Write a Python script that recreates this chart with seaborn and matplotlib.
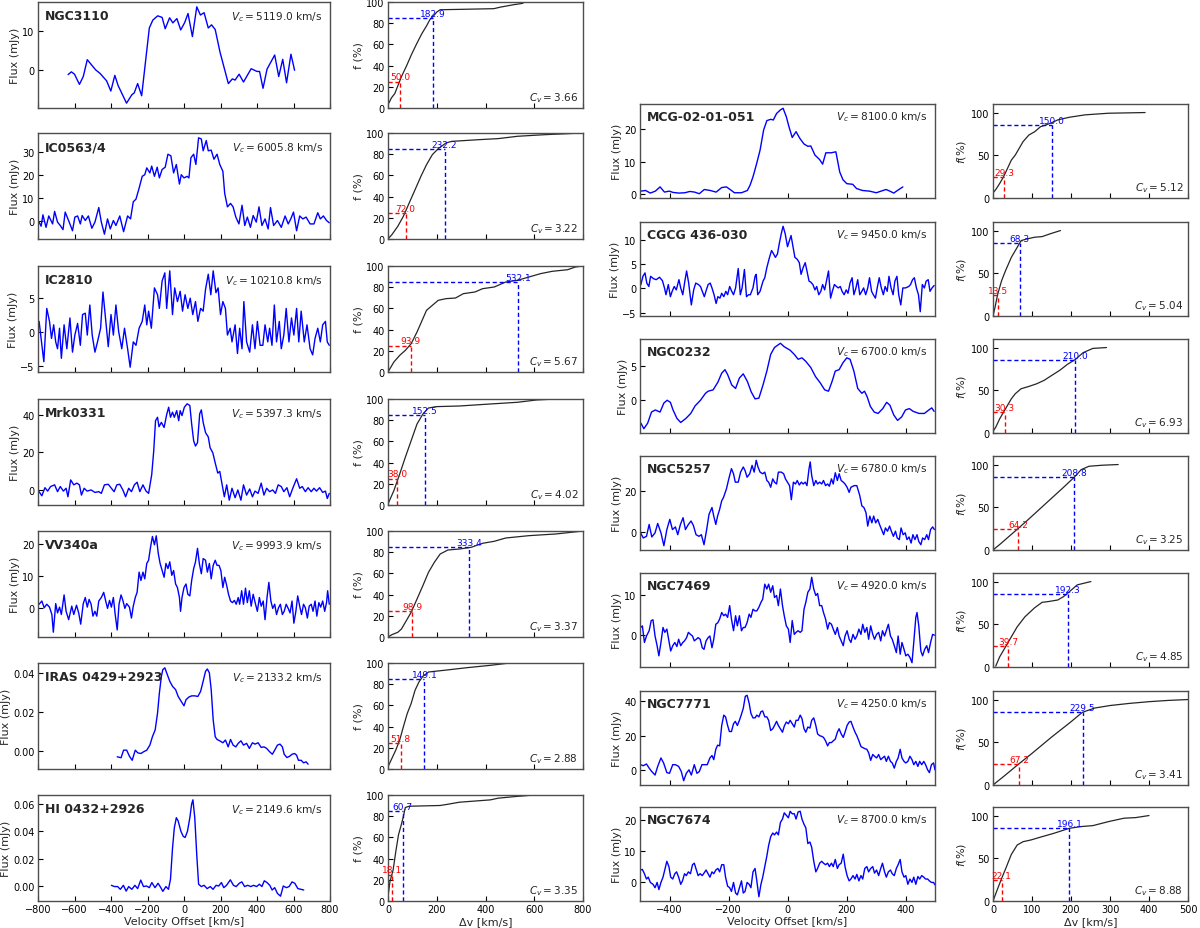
import matplotlib
matplotlib.use('Agg')
import matplotlib.pyplot as plt
import seaborn as sns
import pandas as pd

sns.set_theme(style='ticks')
plt.rcParams['font.family'] = ['DejaVu Sans']
plt.rcParams['mathtext.fontset'] = 'dejavusans'

# ---------------- data ----------------
# spectra: (velocity offset km/s, flux mJy)
ngc3110_spec = [(-635, -1.1), (-617, -0.4), (-600, -1.0), (-573, -3.6), (-552, -1.6), (-530, 2.7), (-484, 0.1),
                (-460, -0.8), (-424, -2.7), (-401, -5.3), (-379, -1.3), (-361, -3.9), (-315, -8.4), (-285, -6.2),
                (-273, -5.8), (-254, -3.4), (-232, -6.5), (-190, 10.8), (-171, 12.8), (-144, 13.9), (-120, 13.5),
                (-103, 10.6), (-79, 13.4), (-61, 12.1), (-39, 13.2), (-18, 10.3), (4, 12.2), (22, 14.5), (46, 8.6),
                (70, 16.2), (90, 14.1), (110, 14.7), (133, 10.8), (151, 11.6), (171, 10.4), (197, 4.7), (243, -3.4),
                (265, -2.2), (280, -2.5), (302, -1.0), (326, -3.0), (368, 0.4), (400, -0.3), (414, -0.3),
                (433, -4.6), (455, 0.3), (497, 3.9), (519, -1.6), (541, 2.8), (562, -3.2), (586, 4.1), (606, 0.0)]

ic0563_spec = [(-794, -0.7), (-783, -2.5), (-773, 2.5), (-756, -3.0), (-741, 2.0), (-720, -1.5), (-709, 4.0),
               (-693, -0.7), (-678, -2.2), (-663, -4.0), (-651, 3.7), (-629, -0.7), (-611, -4.5), (-598, 1.5),
               (-583, 2.0), (-568, -1.5), (-558, 2.2), (-541, 0.0), (-524, 2.0), (-505, -3.4), (-488, -0.7),
               (-467, 5.7), (-453, -0.7), (-436, -6.0), (-419, 0.7), (-404, -3.7), (-387, 0.0), (-373, -2.2),
               (-352, 2.0), (-331, -4.9), (-309, 2.0), (-293, 0.7), (-278, 8.2), (-263, 9.4), (-246, 14.2),
               (-229, 19.4), (-215, 20.1), (-204, 23.1), (-187, 20.9), (-177, 23.9), (-162, 19.4), (-147, 23.4),
               (-135, 18.7), (-120, 22.4), (-103, 23.4), (-88, 29.1), (-72, 28.4), (-57, 20.9), (-42, 24.6),
               (-25, 16.0), (-15, 20.1), (0, 18.7), (17, 19.4), (27, 18.7), (38, 27.6), (53, 29.1), (65, 24.6),
               (80, 36.3), (95, 35.8), (105, 30.6), (122, 35.1), (133, 30.6), (149, 30.9), (164, 26.9),
               (181, 29.1), (196, 24.6), (213, 21.6), (223, 11.9), (238, 6.0), (255, 7.5), (269, 6.0), (284, 1.5),
               (301, -1.5), (318, 6.7), (333, -2.2), (347, 1.5), (364, -3.0), (379, 2.2), (396, -0.7), (411, 6.0),
               (427, -2.2), (444, 0.7), (461, -3.7), (474, 5.7), (491, -2.2), (512, 0.0), (533, -3.0), (554, 2.0),
               (571, -1.5), (585, 0.7), (600, 3.7), (617, -4.5), (634, 2.0), (651, 0.7), (669, 1.5), (691, -1.5),
               (712, -1.5), (733, 3.4), (747, 0.7), (764, 2.0), (781, 0.0), (796, -1.0)]

ic2810_spec = [(-794, 1.6), (-783, -0.9), (-768, -4.3), (-752, 3.5), (-737, 1.6), (-726, -0.9), (-714, 1.1),
               (-703, -1.4), (-693, -2.4), (-682, 0.6), (-672, -3.8), (-657, 1.1), (-642, -2.4), (-625, 2.1),
               (-611, -2.9), (-598, -0.4), (-583, 1.3), (-568, -1.9), (-556, 2.6), (-541, 2.8), (-530, -0.4),
               (-516, 4.0), (-503, -0.4), (-488, -2.9), (-474, -1.4), (-457, 0.6), (-444, 5.9), (-432, 2.6),
               (-415, -2.1), (-400, 2.6), (-387, -0.4), (-373, 4.0), (-358, 0.1), (-341, -2.4), (-326, 0.6),
               (-309, -2.4), (-295, -5.1), (-278, -1.4), (-263, -1.9), (-246, 0.6), (-229, 1.6), (-215, 4.0),
               (-204, 1.1), (-194, 3.1), (-179, 0.6), (-162, 6.5), (-145, 5.5), (-135, 3.5), (-120, 7.5),
               (-105, 8.7), (-95, 3.5), (-78, 9.0), (-63, 2.6), (-51, 6.5), (-36, 4.5), (-21, 6.0), (-8, 3.1),
               (6, 5.5), (21, 3.5), (34, 5.0), (48, 2.6), (63, 4.5), (76, 1.6), (91, 3.5), (105, 3.1), (118, 6.3),
               (133, 8.5), (147, 5.5), (160, 9.0), (175, 5.8), (187, 6.5), (200, 2.6), (213, 4.5), (227, 3.5),
               (238, -0.4), (253, 0.6), (263, -1.4), (280, 1.1), (293, -3.1), (305, 0.6), (318, -2.4), (328, 4.5),
               (343, -1.4), (360, -2.9), (375, 1.1), (389, -2.4), (402, 1.6), (417, -1.9), (432, -1.9), (444, 1.1),
               (459, -1.4), (469, 0.6), (482, -1.9), (495, 4.0), (507, -1.4), (522, 1.6), (533, -2.4), (547, -0.4),
               (560, 3.5), (575, -1.4), (589, 2.1), (602, -0.4), (617, 3.5), (629, -1.4), (642, 3.1), (659, -1.4),
               (674, 1.1), (691, -2.4), (705, -3.3), (718, -0.9), (733, 0.6), (747, -1.4), (760, 1.1), (775, 1.6),
               (785, -1.4), (796, -1.9)]

mrk0331_spec = [(-794, -0.7), (-779, -2.9), (-762, 1.4), (-747, -0.4), (-731, 2.0), (-709, 2.9), (-693, -0.7),
                (-678, 2.0), (-661, -0.4), (-646, 1.1), (-636, -3.4), (-621, 5.5), (-604, 2.9), (-587, 3.8),
                (-573, 2.9), (-562, -2.5), (-547, 1.1), (-531, -0.4), (-509, 0.2), (-488, -1.1), (-467, -0.7),
                (-453, -1.6), (-436, 2.9), (-415, 3.2), (-398, 1.1), (-383, -0.7), (-368, 2.9), (-352, 3.2),
                (-335, 0.2), (-320, -3.4), (-303, 1.1), (-288, -0.7), (-272, 2.9), (-257, 4.3), (-242, -0.7),
                (-225, 2.9), (-208, -0.4), (-194, -1.6), (-177, 8.2), (-166, 20.7), (-156, 36.8), (-145, 38.6),
                (-137, 33.6), (-124, 35.9), (-109, 33.2), (-95, 40.0), (-84, 43.9), (-74, 38.6), (-63, 41.3),
                (-53, 38.6), (-40, 42.1), (-29, 36.8), (-21, 42.1), (-11, 39.5), (2, 43.9), (17, 45.7), (32, 44.8),
                (42, 35.0), (53, 26.1), (63, 23.4), (74, 25.2), (86, 40.4), (95, 42.5), (105, 35.9), (118, 30.5),
                (133, 28.2), (143, 22.5), (158, 19.8), (171, 14.5), (185, 9.1), (196, 10.0), (206, 4.6),
                (221, -3.4), (234, 2.9), (248, -5.2), (263, 1.1), (280, -3.9), (295, 0.2), (312, -5.2), (326, 2.9),
                (343, -2.5), (360, 0.7), (375, -3.4), (389, -0.4), (406, -1.6), (423, 3.8), (438, -2.5), (453, 1.1),
                (469, -0.7), (486, 0.2), (501, -1.6), (516, 2.9), (533, 2.0), (547, -0.7), (564, 1.4), (579, -3.4),
                (596, 1.1), (617, 6.1), (634, 1.1), (648, 2.0), (665, -0.7), (680, 1.4), (697, -0.7), (712, 1.1),
                (726, -0.4), (743, 1.4), (760, -1.1), (775, -0.4), (785, -4.3), (796, -1.6)]

vv340a_spec = [(-794, 1.1), (-779, 2.1), (-766, 0.0), (-752, 1.1), (-737, 0.2), (-724, -2.1), (-716, -7.6),
               (-703, 1.3), (-693, -1.6), (-682, 0.2), (-672, -2.1), (-657, 4.0), (-646, -1.1), (-632, -3.7),
               (-615, 0.5), (-604, -2.1), (-589, 0.8), (-577, -1.6), (-566, -5.1), (-552, 1.3), (-541, 3.2),
               (-530, 0.2), (-520, 2.6), (-509, 1.1), (-499, -2.6), (-488, -1.1), (-478, -2.6), (-467, 2.1),
               (-453, 3.2), (-440, 4.8), (-429, 2.1), (-419, -0.2), (-408, 2.3), (-398, 0.2), (-387, 3.2),
               (-377, -2.1), (-366, -6.9), (-356, 1.1), (-345, 4.0), (-335, 2.3), (-324, -0.2), (-314, 1.3),
               (-299, 0.2), (-288, -3.2), (-278, 0.5), (-267, 3.2), (-257, 4.8), (-246, 11.1), (-236, 8.5),
               (-225, 11.1), (-215, 9.0), (-204, 13.8), (-194, 14.8), (-183, 19.0), (-173, 22.2), (-162, 19.6),
               (-152, 22.4), (-141, 16.9), (-131, 13.8), (-120, 11.6), (-109, 9.5), (-99, 13.8), (-88, 12.2),
               (-78, 14.3), (-67, 10.1), (-57, 11.6), (-46, 7.4), (-36, 6.3), (-25, 3.2), (-19, -1.1), (-11, 3.2),
               (0, 6.3), (11, 7.4), (21, 4.2), (32, 3.7), (42, 8.5), (53, 12.2), (63, 14.3), (74, 18.5), (84, 13.8),
               (95, 10.6), (105, 15.3), (118, 14.8), (128, 11.1), (139, 13.8), (149, 9.0), (160, 13.2), (171, 14.8),
               (181, 13.2), (192, 13.2), (202, 11.6), (213, 6.3), (223, 9.5), (234, 6.9), (244, 4.2), (255, 2.1),
               (265, 1.6), (276, 2.3), (286, 1.1), (297, 3.2), (305, 1.1), (316, 5.3), (326, 1.1), (337, 6.1),
               (347, 1.6), (358, 5.3), (368, 0.5), (379, 4.2), (392, 1.1), (402, -1.1), (413, 3.2), (423, 0.5),
               (434, 2.1), (444, -3.7), (455, 3.2), (465, 7.9), (476, 2.1), (486, -0.2), (497, 1.1), (507, -2.1),
               (518, 0.0), (528, 1.1), (539, -2.1), (549, -1.1), (560, 1.1), (571, -0.2), (581, -1.6), (592, 2.1),
               (602, -4.8), (613, -1.1), (623, 3.7), (634, 0.5), (644, -2.1), (655, 1.1), (665, 0.0), (676, -3.2),
               (686, 0.5), (697, 1.1), (707, -1.1), (718, 2.1), (728, -2.6), (739, 1.6), (749, 0.2), (760, 2.1),
               (771, -1.1), (781, 1.6), (787, 5.3), (796, 1.1)]

iras0429_spec = [(-366, -0.0029), (-345, -0.0034), (-331, 0.0005), (-314, 0.0005), (-299, -0.0026),
                 (-284, -0.0047), (-267, 0.0005), (-253, -0.0009), (-236, -0.0012), (-221, -0.0003),
                 (-204, 0.0005), (-187, 0.0031), (-173, 0.0074), (-158, 0.0109), (-145, 0.0195), (-135, 0.0298),
                 (-124, 0.0384), (-116, 0.0419), (-105, 0.0428), (-95, 0.0402), (-78, 0.0359), (-63, 0.0333),
                 (-46, 0.0316), (-32, 0.0281), (-15, 0.0255), (0, 0.0233), (11, 0.0264), (27, 0.0278), (42, 0.0284),
                 (59, 0.0284), (76, 0.0281), (91, 0.0307), (105, 0.0359), (118, 0.0410), (128, 0.0422),
                 (139, 0.0402), (149, 0.0316), (160, 0.0160), (171, 0.0074), (181, 0.0060), (196, 0.0053),
                 (213, 0.0043), (227, 0.0057), (242, 0.0022), (255, 0.0060), (269, 0.0031), (284, 0.0022),
                 (297, 0.0040), (312, 0.0053), (326, 0.0031), (343, 0.0040), (358, 0.0014), (375, 0.0043),
                 (389, 0.0036), (406, 0.0043), (423, 0.0019), (438, 0.0022), (453, 0.0014), (469, -0.0003),
                 (484, -0.0016), (497, 0.0005), (512, 0.0031), (526, 0.0036), (539, 0.0022), (549, -0.0016),
                 (564, -0.0033), (579, -0.0026), (592, -0.0016), (606, -0.0012), (617, -0.0021), (627, -0.0047),
                 (642, -0.0047), (655, -0.0060), (669, -0.0055), (680, -0.0067)]

hi0432_spec = [(-398, 0.0007), (-381, -0.0002), (-364, -0.0002), (-349, -0.0022), (-332, 0.0007), (-317, -0.0035),
               (-303, -0.0002), (-286, -0.0022), (-269, 0.0007), (-254, -0.0017), (-237, 0.0045), (-222, -0.0002),
               (-205, 0.0002), (-190, -0.0010), (-176, 0.0027), (-159, -0.0010), (-142, 0.0022), (-127, -0.0010),
               (-116, -0.0037), (-99, -0.0002), (-85, -0.0022), (-74, 0.0052), (-63, 0.0276), (-53, 0.0425),
               (-42, 0.0499), (-32, 0.0475), (-17, 0.0400), (-4, 0.0363), (6, 0.0355), (19, 0.0400), (32, 0.0499),
               (42, 0.0599), (49, 0.0629), (59, 0.0499), (70, 0.0226), (80, 0.0015), (95, -0.0002), (110, 0.0007),
               (127, -0.0017), (144, -0.0002), (159, -0.0022), (176, 0.0007), (190, 0.0002), (205, 0.0027),
               (218, -0.0010), (233, 0.0007), (254, 0.0047), (271, 0.0007), (286, -0.0002), (303, 0.0022),
               (317, 0.0032), (332, -0.0002), (349, 0.0007), (366, -0.0002), (381, 0.0007), (398, -0.0002),
               (413, 0.0015), (427, -0.0002), (440, 0.0040), (455, 0.0027), (470, 0.0007), (483, -0.0027),
               (497, -0.0010), (512, -0.0052), (529, -0.0072), (544, 0.0002), (561, -0.0010), (576, -0.0002),
               (592, 0.0032), (607, 0.0022), (624, -0.0017), (641, -0.0022), (656, -0.0027)]

mcg0201_spec = [(-497, 1.0), (-481, 1.2), (-465, 0.4), (-448, 1.0), (-432, 2.3), (-417, 0.7), (-401, 1.0),
                (-388, 0.6), (-368, 0.4), (-348, 0.5), (-331, 0.9), (-315, 0.7), (-299, 0.2), (-282, 1.5),
                (-262, 1.2), (-242, 0.7), (-223, 2.1), (-207, 2.3), (-193, 1.4), (-180, 0.5), (-156, 0.5),
                (-136, 1.2), (-127, 2.8), (-117, 5.4), (-106, 9.0), (-93, 13.6), (-81, 19.8), (-70, 22.7),
                (-57, 23.1), (-48, 22.9), (-37, 24.9), (-24, 26.0), (-15, 26.5), (-4, 23.9), (5, 20.8), (16, 17.5),
                (29, 19.3), (42, 17.2), (56, 15.5), (69, 14.8), (79, 14.9), (93, 12.1), (109, 10.7), (119, 9.3),
                (130, 12.8), (148, 12.8), (164, 13.1), (177, 6.9), (188, 4.5), (201, 3.3), (221, 3.1), (234, 1.8),
                (254, 1.2), (278, 1.0), (301, 0.5), (314, 0.9), (334, 1.5), (347, 1.0), (360, 0.4), (376, 1.4),
                (391, 2.3)]

cgcg436_spec = [(-497, 0.8), (-490, 2.5), (-483, 3.2), (-477, 1.1), (-470, 0.4), (-464, 2.5), (-454, 2.0),
                (-445, 1.8), (-434, 2.3), (-424, 1.6), (-417, 0.1), (-412, -1.3), (-404, 0.8), (-397, -1.7),
                (-391, -0.6), (-384, 0.4), (-377, -0.3), (-368, 1.8), (-362, 0.1), (-355, -1.3), (-348, 1.5),
                (-342, 3.6), (-335, 1.1), (-326, -3.4), (-318, -0.3), (-311, 1.1), (-302, 0.8), (-295, 0.4),
                (-289, -0.6), (-282, -1.7), (-275, -0.3), (-269, 0.8), (-262, 1.1), (-256, 0.1), (-249, -1.3),
                (-242, -3.1), (-236, -1.7), (-229, -2.0), (-223, -1.0), (-216, -1.7), (-209, -0.6), (-203, -1.3),
                (-196, 0.4), (-189, -0.6), (-183, -1.3), (-176, 0.1), (-167, 4.1), (-160, -1.3), (-154, 0.1),
                (-146, 3.9), (-139, -1.7), (-132, -1.3), (-126, -1.3), (-117, 0.1), (-110, 2.5), (-106, 2.9),
                (-101, -1.3), (-93, -0.6), (-83, 1.5), (-77, 2.2), (-70, 4.3), (-61, 6.4), (-54, 7.8), (-48, 7.2),
                (-41, 6.4), (-34, 7.1), (-28, 9.2), (-21, 11.3), (-15, 12.8), (-8, 11.3), (0, 8.6), (7, 9.9),
                (12, 10.9), (19, 8.5), (25, 6.4), (33, 6.0), (40, 5.3), (46, 2.9), (53, 4.3), (60, 5.3), (66, 3.6),
                (73, 1.5), (79, 1.3), (86, 0.8), (93, -0.3), (99, 0.4), (106, -1.3), (113, -0.6), (119, 0.8),
                (126, -0.3), (132, 1.5), (139, 3.6), (146, -2.0), (152, -0.6), (159, 0.8), (166, 0.4), (172, 0.1),
                (179, 0.4), (185, -0.6), (192, -1.3), (199, -0.3), (205, -1.0), (212, 1.1), (219, 2.2), (225, -1.3),
                (232, 0.1), (238, 1.8), (245, -1.3), (252, -0.6), (258, 0.1), (265, -1.3), (272, 0.1), (278, 2.2),
                (285, -0.6), (291, -1.3), (298, -2.0), (305, 0.4), (311, 2.2), (318, 0.1), (325, -1.3), (331, 0.4),
                (338, -0.6), (344, 2.5), (351, 0.1), (358, -1.3), (364, 1.5), (371, 2.5), (377, -1.3), (384, -3.4),
                (391, 0.1), (400, 0.1), (411, 0.4), (417, 0.8), (424, 1.8), (430, 2.2), (437, 0.1), (444, -1.3),
                (450, -4.8), (457, 0.8), (464, 0.1), (470, 1.5), (477, 1.8), (483, -0.6), (490, 0.1), (497, 0.6)]

ngc0232_spec = [(-497, -3.3), (-487, -4.1), (-474, -3.3), (-461, -1.7), (-448, -1.4), (-432, -1.7), (-419, -0.4),
                (-408, 0.0), (-397, -0.3), (-388, -1.4), (-375, -2.6), (-362, -3.2), (-344, -2.6), (-328, -1.9),
                (-313, -0.8), (-295, 0.0), (-278, 1.0), (-269, 1.3), (-252, 1.5), (-236, 2.6), (-223, 3.9),
                (-212, 4.4), (-203, 3.7), (-189, 2.2), (-176, 1.7), (-163, 3.2), (-150, 3.8), (-136, 2.7),
                (-123, 1.2), (-110, 0.2), (-97, 0.3), (-83, 2.2), (-70, 4.2), (-57, 6.6), (-44, 7.6), (-24, 8.2),
                (-11, 7.7), (9, 7.2), (23, 6.6), (36, 5.9), (49, 6.1), (62, 5.6), (79, 4.7), (95, 3.4), (111, 2.5),
                (126, 1.5), (139, 1.3), (151, 2.7), (162, 4.2), (175, 4.4), (188, 5.4), (201, 6.1), (212, 5.9),
                (225, 4.2), (238, 1.7), (252, 1.0), (261, 1.3), (270, 0.5), (281, -0.9), (294, -1.7), (307, -1.9),
                (323, -1.2), (336, -0.3), (347, -0.7), (360, -2.1), (373, -2.9), (387, -2.4), (400, -1.4),
                (413, -1.2), (426, -1.6), (446, -1.9), (464, -1.9), (479, -1.4), (489, -1.1), (497, -1.6)]

ngc5257_spec = [(-498, -0.3), (-489, -2.8), (-478, -2.0), (-469, 3.8), (-460, -2.3), (-449, -0.3), (-440, 4.3),
                (-429, -0.3), (-419, -6.6), (-409, 1.3), (-399, 6.3), (-390, 1.3), (-380, 2.6), (-372, -1.2),
                (-363, 3.8), (-354, 7.1), (-346, 1.3), (-336, 3.8), (-327, 5.5), (-319, 3.3), (-310, -1.2),
                (-300, -2.0), (-292, -1.2), (-283, -6.1), (-274, 1.3), (-266, 8.8), (-256, 12.1), (-250, 7.9),
                (-243, 3.8), (-237, 7.9), (-230, 11.2), (-223, 15.4), (-217, 17.0), (-207, 21.2), (-199, 26.1),
                (-190, 31.1), (-183, 28.6), (-177, 24.5), (-167, 24.5), (-159, 29.4), (-150, 31.9), (-144, 30.2),
                (-137, 26.9), (-128, 28.6), (-120, 32.7), (-113, 29.4), (-106, 35.2), (-100, 31.9), (-93, 29.4),
                (-84, 28.6), (-77, 29.4), (-70, 25.3), (-64, 24.5), (-57, 22.0), (-50, 26.1), (-44, 24.5),
                (-37, 23.6), (-31, 29.4), (-21, 29.4), (-13, 28.6), (-7, 26.1), (0, 24.5), (7, 22.8), (13, 15.9),
                (20, 24.5), (27, 23.6), (33, 25.3), (40, 23.1), (47, 24.5), (53, 23.6), (60, 24.5), (66, 22.8),
                (73, 31.1), (77, 34.4), (82, 27.8), (89, 22.8), (96, 25.3), (102, 23.6), (109, 24.5), (116, 23.6),
                (122, 25.3), (129, 22.8), (136, 23.6), (142, 22.5), (149, 26.1), (155, 23.6), (162, 29.1),
                (169, 25.3), (175, 28.6), (182, 25.3), (189, 24.5), (195, 23.6), (202, 22.0), (209, 19.5),
                (215, 22.0), (226, 22.8), (235, 22.8), (245, 17.9), (252, 12.9), (259, 12.1), (266, 9.6), (272, 3.0),
                (279, 7.9), (286, 4.6), (292, 7.9), (299, 4.6), (306, 6.3), (312, 3.8), (319, 1.3), (326, -1.2),
                (332, 2.1), (339, 0.5), (346, 3.0), (352, 0.5), (359, -2.0), (366, 0.5), (372, -2.8), (379, -3.6),
                (385, 2.1), (392, -1.2), (399, -0.3), (405, -3.6), (412, -2.3), (419, -5.3), (425, -1.2), (432, -3.6),
                (439, -1.2), (445, -4.5), (452, -6.1), (458, -2.8), (465, -3.6), (472, -1.2), (478, -3.6), (485, 1.3),
                (492, 2.6), (498, 1.3)]

ngc7469_spec = [(-498, 1.9), (-492, 2.3), (-485, -1.8), (-478, -0.2), (-469, 1.1), (-462, 3.6), (-456, 3.8),
                (-449, -0.2), (-442, -2.6), (-436, -5.1), (-429, -1.8), (-422, 1.9), (-416, 0.7), (-409, 1.5),
                (-402, -1.4), (-396, -3.9), (-389, -2.6), (-382, -1.8), (-375, -2.8), (-369, -1.0), (-362, -2.6),
                (-355, -1.8), (-349, -1.4), (-342, -0.6), (-336, 0.7), (-329, 0.2), (-322, -0.2), (-316, -1.4),
                (-309, -1.0), (-303, -0.6), (-296, -1.0), (-289, -3.1), (-283, -3.5), (-276, -1.4), (-269, -0.6),
                (-263, -0.2), (-256, -3.1), (-250, -1.0), (-243, 2.7), (-236, 3.1), (-230, 4.0), (-223, 5.6),
                (-216, 4.8), (-210, 5.2), (-203, 4.4), (-196, 7.3), (-190, 4.0), (-183, 1.1), (-176, 4.8),
                (-170, 2.3), (-163, 4.8), (-156, 1.1), (-150, 1.9), (-144, 1.9), (-137, 3.1), (-130, 5.2),
                (-124, 4.4), (-117, 6.4), (-110, 6.0), (-104, 6.0), (-97, 6.9), (-90, 8.1), (-84, 8.9), (-77, 12.6),
                (-70, 11.4), (-64, 12.6), (-57, 10.6), (-50, 12.2), (-44, 9.3), (-37, 9.8), (-31, 7.3), (-24, 11.4),
                (-17, 7.3), (-11, 4.8), (-4, 2.3), (3, 1.5), (9, -1.8), (16, 3.6), (23, 0.2), (29, 0.7), (36, 1.1),
                (43, 0.7), (49, 1.1), (56, 6.4), (62, 8.1), (69, 10.6), (76, 11.4), (82, 14.3), (89, 11.4),
                (96, 9.8), (102, 10.3), (109, 7.3), (116, 7.3), (122, 5.6), (129, 4.0), (136, 1.5), (142, 3.1),
                (149, 2.7), (155, 1.5), (162, 0.2), (169, 1.9), (175, -0.2), (182, -1.4), (189, -2.6), (195, -0.2),
                (202, 1.1), (209, -1.0), (215, -1.8), (222, 0.2), (229, -1.0), (235, -0.2), (242, 1.5), (249, 0.2),
                (255, 2.7), (262, 0.7), (269, 1.9), (275, -1.0), (282, 2.3), (289, 0.2), (295, -1.0), (302, 0.2),
                (309, 0.7), (316, -1.4), (322, 1.1), (329, -0.2), (335, 1.1), (342, 2.7), (349, -0.2), (355, -1.0),
                (362, -2.6), (369, -4.3), (375, -0.2), (382, -4.7), (388, -1.8), (395, -3.5), (401, -5.1),
                (408, -4.7), (415, -5.5), (422, -6.8), (428, -1.8), (435, 4.4), (439, 5.6), (445, 2.3), (452, -3.9),
                (458, -5.1), (465, -3.5), (472, -2.6), (478, -4.3), (485, -1.8), (492, 0.2), (498, 0.0)]

ngc7771_spec = [(-498, 3.2), (-489, 2.6), (-478, 3.6), (-469, 1.2), (-460, -0.8), (-449, -2.8), (-440, 2.2),
                (-429, 7.1), (-420, 4.2), (-409, -1.4), (-400, -1.8), (-389, 3.2), (-380, 3.2), (-369, 2.2),
                (-360, -0.8), (-352, -6.1), (-343, -1.8), (-334, 0.2), (-326, -2.8), (-316, 3.2), (-307, -1.8),
                (-299, -0.8), (-290, 3.2), (-280, 3.2), (-272, 3.2), (-263, 7.1), (-256, 8.5), (-250, 6.1),
                (-243, 12.1), (-237, 14.5), (-230, 14.1), (-223, 25.9), (-216, 31.9), (-210, 30.9), (-203, 25.9),
                (-197, 22.4), (-190, 22.4), (-183, 26.9), (-177, 28.3), (-170, 25.9), (-163, 28.9), (-157, 31.9),
                (-150, 35.8), (-143, 42.8), (-137, 43.4), (-130, 38.8), (-124, 32.9), (-117, 30.3), (-110, 30.3),
                (-104, 31.9), (-97, 30.9), (-90, 33.9), (-84, 34.3), (-77, 30.9), (-70, 30.9), (-64, 28.9),
                (-57, 23.0), (-50, 24.0), (-44, 25.9), (-37, 28.3), (-31, 25.9), (-24, 24.0), (-17, 22.0),
                (-11, 25.5), (-4, 27.9), (3, 26.9), (9, 28.9), (16, 26.9), (23, 25.0), (29, 28.9), (36, 28.9),
                (43, 31.9), (49, 29.9), (56, 24.0), (62, 22.0), (69, 25.0), (76, 24.4), (82, 28.9), (89, 30.3),
                (96, 25.9), (102, 21.0), (109, 20.0), (116, 19.6), (122, 19.0), (129, 17.0), (136, 14.1), (142, 16.0),
                (149, 16.0), (155, 17.0), (162, 18.0), (169, 22.0), (175, 24.0), (182, 21.0), (189, 19.0),
                (195, 22.0), (202, 25.9), (209, 27.9), (215, 28.3), (222, 25.0), (229, 22.0), (235, 20.0),
                (242, 17.0), (249, 13.7), (255, 13.1), (262, 12.5), (269, 12.1), (275, 10.1), (282, 5.7), (289, 9.1),
                (295, 8.1), (302, 7.1), (309, 9.1), (316, 6.1), (322, 7.1), (329, 8.1), (335, 5.1), (342, 8.1),
                (349, 5.1), (355, 4.2), (362, 1.2), (369, 5.1), (375, 7.1), (382, 12.1), (388, 7.1), (395, 5.1),
                (401, 4.2), (408, 5.1), (415, 8.1), (422, 6.1), (428, 3.2), (435, 5.1), (442, 2.2), (448, 5.1),
                (455, 3.2), (462, 5.1), (468, 3.2), (475, 0.2), (481, -1.4), (488, 3.2), (495, 4.2), (500, 0.2)]

ngc7674_spec = [(-498, 3.8), (-492, 4.0), (-485, 2.6), (-478, 0.9), (-472, 1.5), (-465, -0.2), (-456, -0.8),
                (-449, -1.9), (-442, -0.2), (-436, -2.5), (-429, -0.2), (-422, 1.5), (-416, 3.8), (-409, 6.6),
                (-402, 4.9), (-396, 1.5), (-389, 0.9), (-382, 2.6), (-376, 3.2), (-369, 1.5), (-362, -0.8),
                (-356, 0.3), (-349, 2.6), (-343, 2.0), (-336, 3.2), (-329, 2.6), (-322, 5.5), (-316, 6.0),
                (-309, 3.8), (-303, 2.0), (-296, 2.6), (-289, 2.0), (-283, 2.8), (-276, 3.8), (-269, 2.6),
                (-263, 1.5), (-256, 3.2), (-250, 2.6), (-243, 3.8), (-236, 4.3), (-230, 3.2), (-223, 5.5),
                (-216, 5.5), (-210, 1.5), (-203, -1.4), (-196, -1.9), (-190, -3.1), (-183, -0.2), (-176, -3.6),
                (-170, -4.2), (-163, -1.9), (-156, 0.3), (-150, -3.6), (-144, -3.1), (-137, -0.2), (-130, -0.8),
                (-124, -1.9), (-117, 3.2), (-110, 4.3), (-104, 0.3), (-97, -4.8), (-90, -0.8), (-84, 1.5),
                (-77, 4.9), (-70, 8.3), (-64, 11.7), (-57, 14.5), (-50, 15.7), (-44, 15.1), (-37, 16.0), (-31, 15.1),
                (-24, 19.1), (-17, 20.2), (-11, 22.2), (-4, 21.4), (3, 20.6), (9, 22.7), (16, 21.9), (23, 21.9),
                (29, 20.2), (36, 22.5), (43, 22.7), (49, 20.2), (56, 18.5), (62, 17.4), (69, 12.3), (76, 12.8),
                (82, 11.1), (89, 6.6), (96, 3.2), (102, 4.3), (109, 6.0), (116, 6.6), (122, 6.0), (129, 5.5),
                (136, 6.0), (142, 4.9), (149, 6.0), (155, 4.9), (162, 7.2), (169, 4.3), (175, 5.5), (182, 6.0),
                (189, 8.9), (195, 4.9), (202, 2.0), (209, 0.3), (215, 0.9), (222, 2.0), (229, 0.9), (235, 2.4),
                (242, 0.3), (249, 2.0), (255, 0.9), (262, 4.3), (269, 4.9), (275, 3.2), (282, 4.3), (289, 4.9),
                (295, 2.8), (302, 3.8), (309, 2.0), (316, 4.3), (322, 6.0), (329, 3.2), (335, 1.5), (342, 3.2),
                (349, 3.8), (355, 2.6), (362, 2.0), (369, 4.3), (375, 5.5), (382, 7.2), (388, 3.2), (395, 1.5),
                (401, 2.0), (408, -0.8), (415, 0.9), (422, -0.2), (428, 1.5), (435, -0.8), (442, 1.7), (448, 0.9),
                (455, 2.0), (462, 1.5), (468, 0.9), (475, 0.9), (481, 0.3), (488, -0.2), (495, -0.2), (500, -1.0)]

# cumulative flux curves: (delta v km/s, f %)
ngc3110_cum = [(4, 4.8), (14, 9.5), (28, 13.7), (41, 21.3), (55, 29.5), (76, 39.7), (97, 50.8), (117, 60.3),
               (138, 69.8), (159, 77.8), (172, 83.5), (186, 86.7), (200, 90.5), (214, 92.7), (283, 93.0),
               (434, 93.7), (462, 95.2), (517, 97.5), (552, 98.7), (559, 100.0), (800, 100.0)]
ic0563_cum = [(0, 0.0), (16, 4.1), (40, 11.9), (63, 21.4), (87, 34.0), (111, 46.5), (135, 59.1), (158, 70.1),
              (182, 79.6), (206, 85.2), (238, 90.6), (261, 92.1), (372, 93.7), (452, 94.7), (531, 96.9),
              (642, 98.4), (769, 99.7), (800, 100.0)]
ic2810_cum = [(0, 0.0), (24, 9.4), (48, 15.7), (71, 20.4), (95, 26.7), (119, 37.7), (143, 50.3), (158, 58.2),
              (182, 62.9), (206, 67.6), (238, 69.2), (277, 69.8), (309, 73.9), (357, 75.5), (388, 78.6),
              (436, 80.2), (483, 84.9), (531, 86.5), (578, 89.6), (626, 92.8), (674, 95.0), (737, 96.5),
              (769, 99.1), (800, 100.0)]
mrk0331_cum = [(0, 1.0), (24, 13.5), (48, 29.2), (71, 45.0), (95, 60.7), (119, 76.4), (143, 85.8), (166, 91.5),
               (198, 92.8), (293, 93.4), (420, 95.3), (531, 96.9), (610, 99.1), (689, 100.0), (800, 100.0)]
vv340a_cum = [(0, 0.0), (16, 2.2), (40, 4.4), (55, 7.5), (71, 13.8), (95, 23.3), (119, 35.8), (143, 48.4),
              (166, 61.0), (190, 70.4), (214, 78.3), (246, 82.1), (293, 83.0), (341, 84.6), (388, 88.4),
              (436, 90.3), (483, 93.4), (578, 95.6), (689, 97.2), (800, 100.0)]
iras0429_cum = [(0, 2.2), (16, 10.0), (32, 17.9), (48, 27.3), (63, 39.8), (79, 52.4), (95, 61.8), (111, 74.3),
                (127, 82.1), (143, 87.5), (166, 91.5), (230, 93.1), (325, 95.6), (420, 97.8), (499, 100.0),
                (800, 100.0)]
hi0432_cum = [(0, 4.1), (8, 18.3), (21, 29.3), (32, 46.6), (43, 62.4), (55, 72.4), (63, 79.7), (71, 88.2),
              (87, 89.4), (214, 90.1), (246, 91.3), (293, 93.2), (420, 95.4), (452, 97.0), (520, 98.5),
              (600, 100.0), (800, 100.0)]
mcg0201_cum = [(0, 5.9), (7, 9.8), (17, 16.9), (27, 24.7), (37, 34.5), (47, 44.3), (57, 50.2), (67, 58.0),
               (77, 65.9), (92, 73.7), (107, 77.6), (122, 83.5), (136, 85.5), (151, 88.2), (166, 91.4),
               (196, 94.5), (236, 97.3), (296, 99.2), (390, 100.0)]
cgcg436_cum = [(0, 0.0), (5, 9.8), (12, 25.5), (22, 41.2), (32, 52.9), (47, 68.6), (62, 80.3), (72, 88.2),
               (87, 90.2), (107, 92.2), (126, 92.9), (146, 96.1), (173, 100.0)]
ngc0232_cum = [(0, 2.0), (7, 6.7), (17, 16.5), (27, 24.3), (37, 32.2), (47, 40.0), (57, 45.9), (72, 51.8),
               (92, 54.5), (112, 57.6), (131, 61.6), (151, 67.5), (171, 73.3), (191, 80.4), (211, 86.0),
               (231, 94.0), (256, 99.0), (291, 100.0)]
ngc5257_cum = [(0, 0.0), (20, 7.5), (40, 15.5), (64, 25.0), (90, 35.5), (120, 48.0), (150, 60.5), (180, 73.0),
               (208, 85.0), (226, 94.0), (246, 98.0), (280, 99.2), (321, 100.0)]
ngc7469_cum = [(7, 1.0), (17, 11.8), (32, 23.5), (47, 35.3), (62, 47.0), (82, 58.8), (107, 69.4), (126, 75.7),
               (141, 76.5), (166, 78.4), (181, 82.4), (196, 88.2), (216, 96.1), (251, 100.0)]
ngc7771_cum = [(0, 0.0), (30, 11.0), (67, 25.0), (100, 37.0), (150, 56.0), (200, 74.0), (229, 85.0), (260, 90.0),
               (300, 93.0), (350, 95.5), (400, 97.5), (450, 99.0), (500, 100.0)]
ngc7674_cum = [(0, 0.0), (12, 14.5), (22, 26.3), (32, 37.3), (47, 54.5), (62, 65.5), (77, 69.4), (97, 71.4),
               (126, 75.3), (156, 79.2), (196, 85.1), (226, 87.1), (256, 88.2), (296, 92.9), (336, 96.9),
               (366, 97.6), (400, 100.0)]

left_names = ['NGC3110', 'IC0563/4', 'IC2810', 'Mrk0331', 'VV340a', 'IRAS 0429+2923', 'HI 0432+2926']
left_vc = [5119.0, 6005.8, 10210.8, 5397.3, 9993.9, 2133.2, 2149.6]
left_v25 = [50.0, 72.0, 93.9, 38.0, 98.9, 51.8, 18.1]
left_v85 = [182.9, 232.2, 532.1, 152.5, 333.4, 149.1, 60.7]
left_cv = [3.66, 3.22, 5.67, 4.02, 3.37, 2.88, 3.35]
left_yticks = [[0, 10], [0, 10, 20, 30], [-5, 0, 5], [0, 20, 40], [0, 10, 20],
               [0.00, 0.02, 0.04], [0.00, 0.02, 0.04, 0.06]]
left_specs = [ngc3110_spec, ic0563_spec, ic2810_spec, mrk0331_spec, vv340a_spec, iras0429_spec, hi0432_spec]
left_cums = [ngc3110_cum, ic0563_cum, ic2810_cum, mrk0331_cum, vv340a_cum, iras0429_cum, hi0432_cum]

right_names = ['MCG-02-01-051', 'CGCG 436-030', 'NGC0232', 'NGC5257', 'NGC7469', 'NGC7771', 'NGC7674']
right_vc = [8100.0, 9450.0, 6700.0, 6780.0, 4920.0, 4250.0, 8700.0]
right_v25 = [29.3, 13.5, 30.3, 64.2, 39.7, 67.2, 22.1]
right_v85 = [150.0, 68.3, 210.0, 208.8, 192.3, 229.5, 196.1]
right_cv = [5.12, 5.04, 6.93, 3.25, 4.85, 3.41, 8.88]
right_yticks = [[0, 10, 20], [-5, 0, 5, 10], [0, 5], [0, 20], [0, 10], [0, 20, 40], [0, 10, 20]]
right_specs = [mcg0201_spec, cgcg436_spec, ngc0232_spec, ngc5257_spec, ngc7469_spec, ngc7771_spec, ngc7674_spec]
right_cums = [mcg0201_cum, cgcg436_cum, ngc0232_cum, ngc5257_cum, ngc7469_cum, ngc7771_cum, ngc7674_cum]

# ---------------- drawing ----------------
W, H = 1200, 929
fig = plt.figure(figsize=(W / 100, H / 100), dpi=100)

TICK_FS = 7
LABEL_FS = 8


def add_ax(x0, x1, top, h):
    return fig.add_axes([x0 / W, 1 - (top + h) / H, (x1 - x0) / W, h / H])


def style_ax(ax, bottom):
    for sp in ax.spines.values():
        sp.set_color('0.3')
        sp.set_linewidth(1.0)
    ax.tick_params(direction='in', length=3.5, width=0.8, labelsize=TICK_FS, pad=2.5,
                   labelbottom=bottom, colors='black')


def draw_spec(ax, spec, name, vc, yticks, xlim, xticks, bottom):
    df = pd.DataFrame(spec, columns=['v', 'flux'])
    sns.lineplot(data=df, x='v', y='flux', ax=ax, color='blue', lw=1.0,
                 estimator=None, sort=False)
    ax.set_xlim(*xlim)
    ax.set_xticks(xticks)
    ax.set_yticks(yticks)
    ax.set_ylabel('Flux (mJy)', fontsize=LABEL_FS, labelpad=1.5)
    ax.set_xlabel('Velocity Offset [km/s]' if bottom else '', fontsize=LABEL_FS, labelpad=1)
    ax.text(0.025, 0.87, name, transform=ax.transAxes, fontsize=9,
            fontweight='bold', ha='left', va='center')
    ax.text(0.975, 0.87, r'$V_c = %.1f$ km/s' % vc, transform=ax.transAxes,
            fontsize=7.6, ha='right', va='center')
    style_ax(ax, bottom)


def draw_cum(ax, cum, v25, v85, cv, xlim, xticks, ylim, yticks, ylabel, bottom):
    df = pd.DataFrame(cum, columns=['dv', 'f'])
    sns.lineplot(data=df, x='dv', y='f', ax=ax, color='0.15', lw=0.9,
                 estimator=None, sort=False)
    for v, lev, col in ((v25, 25, 'red'), (v85, 85, 'blue')):
        ax.plot([0, v], [lev, lev], color=col, ls='--', lw=1.0, dashes=(3, 2))
        ax.plot([v, v], [0, lev], color=col, ls='--', lw=1.0, dashes=(3, 2))
        ax.text(v, lev, '%.1f' % v, color=col, fontsize=6.5, ha='center', va='bottom')
    ax.text(0.975, 0.04, r'$C_v = %.2f$' % cv, transform=ax.transAxes,
            fontsize=7.5, ha='right', va='bottom')
    ax.set_xlim(*xlim)
    ax.set_ylim(*ylim)
    ax.set_xticks(xticks)
    ax.set_yticks(yticks)
    ax.set_ylabel(ylabel, fontsize=LABEL_FS, labelpad=2)
    ax.set_xlabel('\u0394v [km/s]' if bottom else '', fontsize=LABEL_FS, labelpad=1)
    style_ax(ax, bottom)


left_tops = [3, 134, 267, 400, 532, 664, 796]
right_tops = [105, 223, 340, 457, 574, 692, 808]

for i in range(7):
    last = i == 6
    ax = add_ax(38, 330, left_tops[i], 106)
    draw_spec(ax, left_specs[i], left_names[i], left_vc[i], left_yticks[i],
              (-800, 800), [-800, -600, -400, -200, 0, 200, 400, 600, 800], last)
    ax = add_ax(388, 583, left_tops[i], 106)
    draw_cum(ax, left_cums[i], left_v25[i], left_v85[i], left_cv[i], (0, 800),
             [0, 200, 400, 600, 800], (0, 100), [0, 20, 40, 60, 80, 100], 'f (%)', last)

    ax = add_ax(640, 935, right_tops[i], 94)
    draw_spec(ax, right_specs[i], right_names[i], right_vc[i], right_yticks[i],
              (-500, 500), [-400, -200, 0, 200, 400], last)
    ax = add_ax(993, 1188, right_tops[i], 94)
    draw_cum(ax, right_cums[i], right_v25[i], right_v85[i], right_cv[i], (0, 500),
             [0, 100, 200, 300, 400, 500], (0, 110), [0, 50, 100], r'$f$(%)', last)

fig.savefig('out.png', dpi=100)
